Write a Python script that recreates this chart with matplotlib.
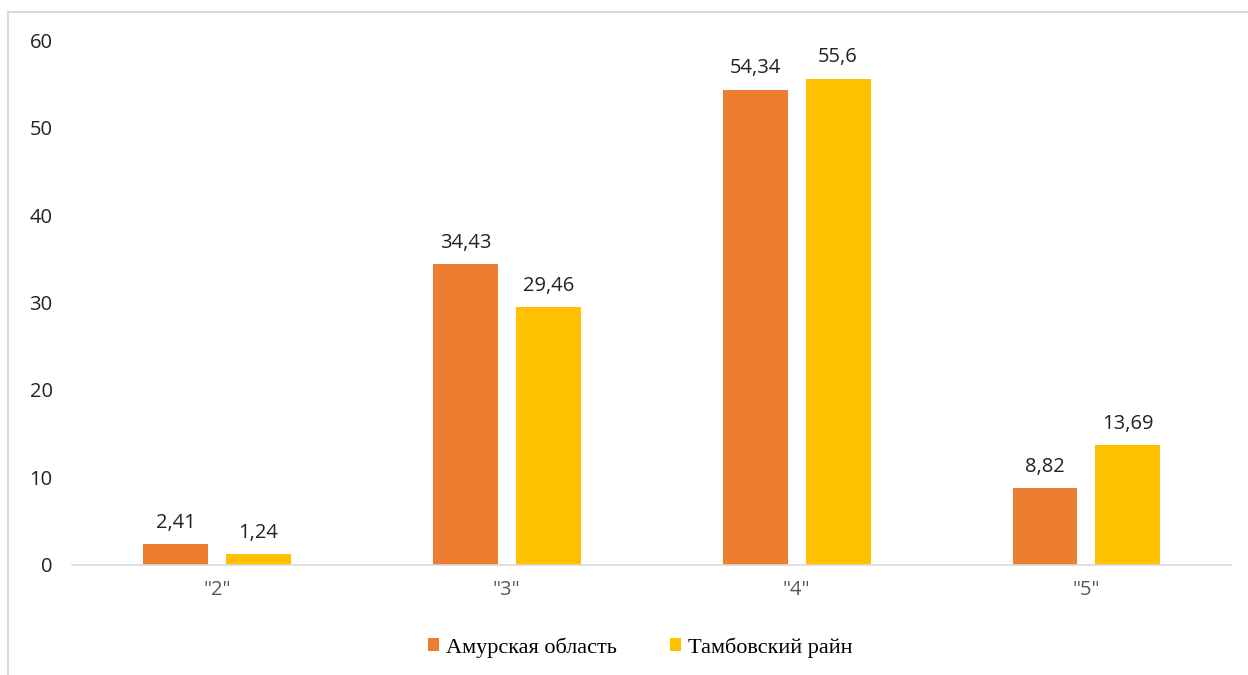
import numpy as np
import matplotlib.pyplot as plt
from matplotlib.lines import Line2D

categories = ['"2"', '"3"', '"4"', '"5"']
amur = [2.41, 34.43, 54.34, 8.82]
tambov = [1.24, 29.46, 55.6, 13.69]
amur_labels = ["2,41", "34,43", "54,34", "8,82"]
tambov_labels = ["1,24", "29,46", "55,6", "13,69"]
series_names = ["Амурская область", "Тамбовский райн"]

orange = "#ED7D31"
yellow = "#FFC000"

fig = plt.figure(figsize=(12.48, 6.75), dpi=100)
ax = fig.add_axes([0.0577, 0.163, 0.929, 0.7777])

x = np.arange(len(categories))
w = 0.224
off = 0.143
b1 = ax.bar(x - off, amur, w, color=orange, label=series_names[0])
b2 = ax.bar(x + off, tambov, w, color=yellow, label=series_names[1])

# data labels above each bar
for bars, labels in [(b1, amur_labels), (b2, tambov_labels)]:
    for rect, lab in zip(bars, labels):
        ax.annotate(lab, (rect.get_x() + rect.get_width() / 2, rect.get_height()),
                    xytext=(0, 8), textcoords="offset points", ha="center", va="bottom",
                    fontsize=14.5, color="#222222", family="Open Sans")

ax.set_xlim(-0.5, len(categories) - 0.5)
ax.set_ylim(0, 60)
ax.set_yticks(range(0, 61, 10))
ax.set_xticks(x)
ax.set_xticklabels(categories)
for s in ["top", "right", "left"]:
    ax.spines[s].set_visible(False)
ax.spines["bottom"].set_color("#d9d9d9")
ax.spines["bottom"].set_linewidth(1.2)
ax.tick_params(axis="both", length=0)
ax.tick_params(axis="y", pad=14, labelsize=14.5, labelcolor="#222222")
ax.tick_params(axis="x", pad=11, labelsize=14.5, labelcolor="#595959")
for t in ax.get_yticklabels() + ax.get_xticklabels():
    t.set_family("Open Sans")

leg = fig.legend(handles=[b1, b2], labels=series_names, loc="center",
                 bbox_to_anchor=(0.513, 0.041), ncol=2, frameon=False,
                 prop={"family": "Liberation Serif", "size": 16},
                 handlelength=0.5, handleheight=0.5, handletextpad=0.3,
                 columnspacing=2.4)

# chart border
fig.add_artist(Line2D([8 / 1248, 8 / 1248], [0, 1 - 12 / 675], color="#d9d9d9", lw=1.5))
fig.add_artist(Line2D([8 / 1248, 1], [1 - 12 / 675, 1 - 12 / 675], color="#d9d9d9", lw=1.5))

fig.savefig("out.png", dpi=100)
